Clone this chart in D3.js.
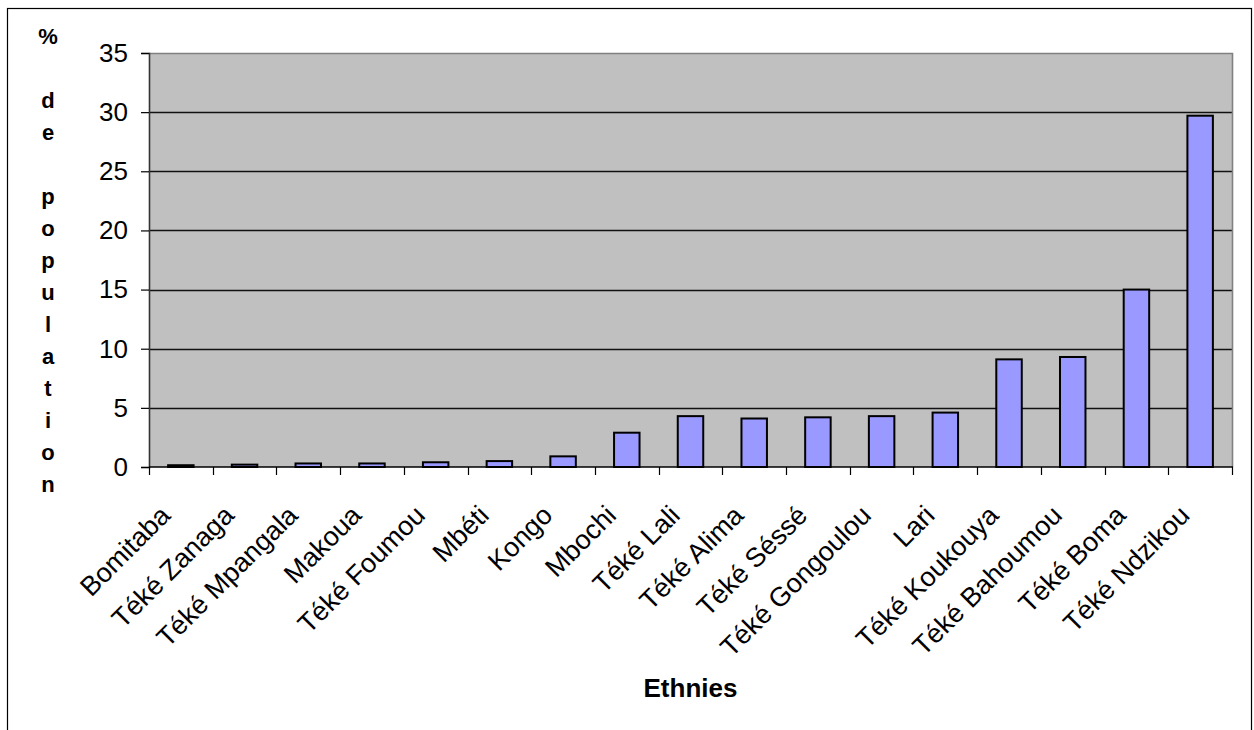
<!DOCTYPE html>
<html>
<head>
<meta charset="utf-8">
<script src="https://cdn.jsdelivr.net/npm/d3@7"></script>
<style>
  html, body { margin: 0; padding: 0; background: #fff; }
  svg { display: block; font-family: "Liberation Sans", Arial, sans-serif; }
</style>
</head>
<body>
<svg id="chart" width="1254" height="730"></svg>
<script>
// Ethnic groups and their share of the population (%)
const categories = [
  "Bomitaba", "Téké Zanaga", "Téké Mpangala", "Makoua", "Téké Foumou",
  "Mbéti", "Kongo", "Mbochi", "Téké Lali", "Téké Alima", "Téké Séssé",
  "Téké Gongoulou", "Lari", "Téké Koukouya", "Téké Bahoumou", "Téké Boma",
  "Téké Ndzikou"
];
const values = [
  0.15, 0.2, 0.3, 0.3, 0.4,
  0.5, 0.9, 2.9, 4.3, 4.1, 4.2,
  4.3, 4.6, 9.1, 9.3, 15.0,
  29.7
];
const yTicks = [0, 5, 10, 15, 20, 25, 30, 35];
const yTitle = "% de population";
const xTitle = "Ethnies";

const svg = d3.select("#chart");

// Plot area
const plot = { left: 149, right: 1232, top: 53, bottom: 467 };

// Outer chart frame (open at the bottom edge of the page)
svg.append("rect")
  .attr("x", 7.5).attr("y", 8.5)
  .attr("width", 1244).attr("height", 740)
  .attr("fill", "#fff").attr("stroke", "#000").attr("stroke-width", 1.2);

const x = d3.scaleBand()
  .domain(categories)
  .range([plot.left, plot.right])
  .paddingInner(0.6)
  .paddingOuter(0.3);

const xSlots = d3.scaleBand()
  .domain(categories)
  .range([plot.left, plot.right])
  .padding(0);

const y = d3.scaleLinear()
  .domain([0, 35])
  .range([plot.bottom, plot.top]);

// Grey plot background
svg.append("rect")
  .attr("x", plot.left).attr("y", plot.top)
  .attr("width", plot.right - plot.left).attr("height", plot.bottom - plot.top)
  .attr("fill", "#c0c0c0");

// Horizontal gridlines
svg.append("g")
  .selectAll("line")
  .data(yTicks.filter(d => d > 0 && d < 35))
  .join("line")
  .attr("x1", plot.left).attr("x2", plot.right)
  .attr("y1", d => Math.round(y(d)) + 0.5)
  .attr("y2", d => Math.round(y(d)) + 0.5)
  .attr("stroke", "#111").attr("stroke-width", 1.3);

// Plot frame: top and right edges
svg.append("path")
  .attr("d", `M${plot.left},${plot.top + 0.5}H${plot.right + 0.5}V${plot.bottom}`)
  .attr("fill", "none").attr("stroke", "#808080").attr("stroke-width", 1.6);

// Bars
svg.append("g")
  .selectAll("rect")
  .data(categories.map((c, i) => ({ c, v: values[i] })))
  .join("rect")
  .attr("x", d => x(d.c))
  .attr("width", x.bandwidth())
  .attr("y", d => y(d.v))
  .attr("height", d => y(0) - y(d.v))
  .attr("fill", "#9999ff")
  .attr("stroke", "#000")
  .attr("stroke-width", 2);

// Y axis
const yAxis = d3.axisLeft(y)
  .tickValues(yTicks)
  .tickSize(8)
  .tickPadding(13)
  .tickFormat(d3.format("d"));

const gy = svg.append("g")
  .attr("transform", `translate(${plot.left},0)`)
  .call(yAxis);
gy.select(".domain").attr("stroke", "#333").attr("stroke-width", 1.6);
gy.selectAll(".tick line").attr("stroke", "#000").attr("stroke-width", 1.2);
gy.selectAll(".tick text")
  .attr("font-size", 26)
  .attr("fill", "#000")
  .attr("font-family", "'Liberation Sans', Arial, sans-serif");

// X axis: ticks at category boundaries
const boundaries = categories.map(c => xSlots(c)).concat([plot.right]);
const gx = svg.append("g");
gx.append("line")
  .attr("x1", plot.left).attr("x2", plot.right + 1)
  .attr("y1", plot.bottom).attr("y2", plot.bottom)
  .attr("stroke", "#000").attr("stroke-width", 1.6);
gx.selectAll("line.tick")
  .data(boundaries)
  .join("line")
  .attr("class", "tick")
  .attr("x1", d => Math.round(d) + 0.5).attr("x2", d => Math.round(d) + 0.5)
  .attr("y1", plot.bottom).attr("y2", plot.bottom + 8)
  .attr("stroke", "#000").attr("stroke-width", 1.2);

// Rotated category labels
gx.selectAll("text")
  .data(categories)
  .join("text")
  .attr("transform", d => {
    const cx = xSlots(d) + xSlots.bandwidth() / 2 - 9;
    return `translate(${cx},${plot.bottom + 50}) rotate(-45)`;
  })
  .attr("text-anchor", "end")
  .attr("font-size", 27)
  .attr("fill", "#000")
  .text(d => d);

// X axis title
svg.append("text")
  .attr("x", (plot.left + plot.right) / 2)
  .attr("y", 697)
  .attr("text-anchor", "middle")
  .attr("font-size", 26)
  .attr("font-weight", "bold")
  .attr("fill", "#000")
  .text(xTitle);

// Y axis title, one character per line
const yt = svg.append("text")
  .attr("font-size", 22)
  .attr("font-weight", "bold")
  .attr("fill", "#000")
  .attr("text-anchor", "middle");
yt.selectAll("tspan")
  .data(Array.from(yTitle))
  .join("tspan")
  .attr("x", 48)
  .attr("y", (d, i) => 44 + i * 32)
  .text(d => d === " " ? "\u00a0" : d);
</script>
</body>
</html>
